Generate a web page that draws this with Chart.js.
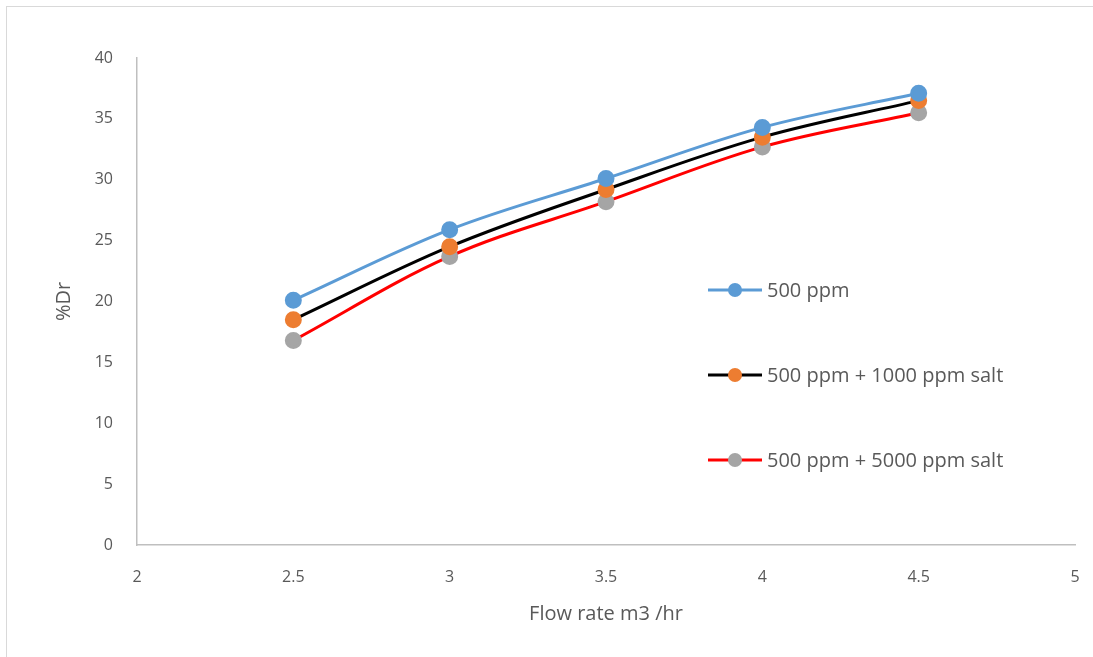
<!DOCTYPE html>
<html>
<head>
<meta charset="utf-8">
<script src="https://cdn.jsdelivr.net/npm/chart.js@4/dist/chart.umd.min.js"></script>
<style>
  html, body { margin: 0; padding: 0; background: #fff; }
  #wrap { position: absolute; left: 0; top: 0; width: 1093px; height: 657px; }
  #frame { position: absolute; left: 6px; top: 6px; width: 1100px; height: 700px;
           border-left: 1px solid #d9d9d9; border-top: 1px solid #d9d9d9; pointer-events: none; }
</style>
</head>
<body>
<div id="wrap">
  <canvas id="drChart" width="1093" height="657"></canvas>
  <div id="frame"></div>
</div>
<script>
// caudal (m3/hr) y %Dr por serie
const flowRate = [2.5, 3, 3.5, 4, 4.5];
const dr500 = [20.1, 25.9, 30.1, 34.3, 37.1];
const dr500Salt1000 = [18.5, 24.5, 29.2, 33.5, 36.5];
const dr500Salt5000 = [16.8, 23.7, 28.2, 32.7, 35.5];
const seriesNames = ['500 ppm', '500 ppm + 1000 ppm salt', '500 ppm + 5000 ppm salt'];

const fuente = "'Open Sans', 'DejaVu Sans', sans-serif";
const gris = '#595959';

const puntos = (ys) => flowRate.map((x, i) => ({ x: x, y: ys[i] }));

const serie = (label, ys, linea, marca) => ({
    label: label,
    data: puntos(ys),
    borderColor: linea,
    backgroundColor: marca,
    pointBackgroundColor: marca,
    pointBorderColor: marca,
    pointRadius: 7,
    pointHoverRadius: 7,
    borderWidth: 3,
    tension: 0.35,
    fill: false
});

// leyenda dibujada dentro del área del gráfico
const leyenda = {
    id: 'leyenda',
    afterDraw(chart) {
        const ctx = chart.ctx;
        const filas = [290, 375, 460];
        chart.data.datasets.forEach((ds, i) => {
            const y = filas[i];
            ctx.save();
            ctx.strokeStyle = ds.borderColor;
            ctx.lineWidth = 3;
            ctx.beginPath();
            ctx.moveTo(708, y);
            ctx.lineTo(762, y);
            ctx.stroke();
            ctx.fillStyle = ds.pointBackgroundColor;
            ctx.beginPath();
            ctx.arc(735, y, 7, 0, Math.PI * 2);
            ctx.fill();
            ctx.fillStyle = gris;
            ctx.font = '20px ' + fuente;
            ctx.textBaseline = 'middle';
            ctx.textAlign = 'left';
            ctx.fillText(ds.label, 767, y + 1);
            ctx.restore();
        });
    }
};

const numero = (v) => String(v);

new Chart(document.getElementById('drChart'), {
    type: 'line',
    data: {
        datasets: [
            serie(seriesNames[0], dr500, '#5b9bd5', '#5b9bd5'),
            serie(seriesNames[1], dr500Salt1000, '#000000', '#ed7d31'),
            serie(seriesNames[2], dr500Salt5000, '#ff0000', '#a5a5a5')
        ]
    },
    options: {
        responsive: false,
        animation: false,
        layout: { padding: { top: 58, right: 18, bottom: 0, left: 0 } },
        plugins: {
            legend: { display: false },
            tooltip: { enabled: false }
        },
        scales: {
            x: {
                type: 'linear',
                min: 2,
                max: 5,
                ticks: { stepSize: 0.5, callback: numero, color: gris, font: { family: fuente, size: 16 }, padding: 23 },
                grid: { display: false, drawTicks: false },
                border: { display: true, color: '#bfbfbf', width: 1.5 },
                title: {
                    display: true,
                    text: 'Flow rate m3 /hr',
                    color: gris,
                    font: { family: fuente, size: 20 },
                    padding: { top: 0, bottom: 31 }
                },
                afterFit(scale) {
                    scale.height = 112;
                    scale.paddingLeft = 0;
                    scale.paddingRight = 0;
                }
            },
            y: {
                min: 0,
                max: 40,
                ticks: { stepSize: 5, color: gris, font: { family: fuente, size: 16 }, padding: 24 },
                grid: { display: false, drawTicks: false },
                border: { display: true, color: '#bfbfbf', width: 1.5 },
                title: {
                    display: true,
                    text: '%Dr',
                    color: gris,
                    font: { family: fuente, size: 20 },
                    padding: { top: 52, bottom: 0 }
                },
                afterFit(scale) { scale.width = 137; }
            }
        }
    },
    plugins: [leyenda]
});
</script>
</body>
</html>
